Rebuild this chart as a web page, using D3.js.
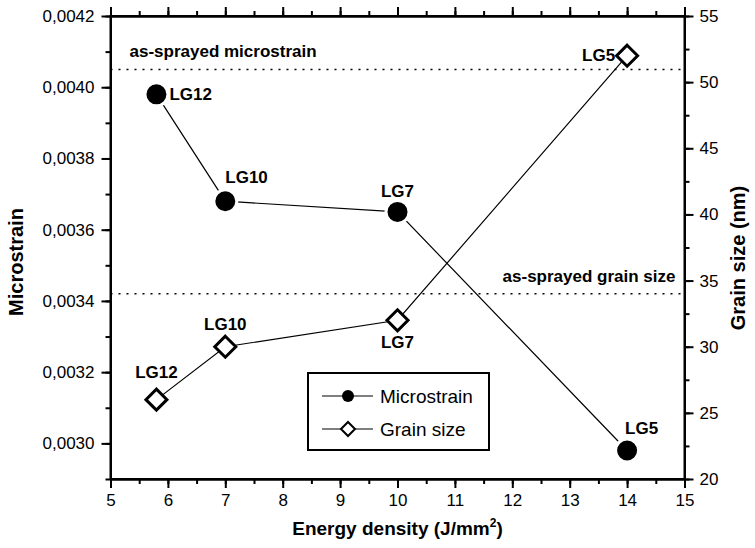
<!DOCTYPE html>
<html>
<head>
<meta charset="utf-8">
<script src="https://cdn.jsdelivr.net/npm/d3@7"></script>
<style>
  body { margin: 0; background: #fff; }
  svg { display: block; font-family: "Liberation Sans", Arial, sans-serif; }
  .axis path, .axis line { stroke: #000; stroke-width: 2; }
  .axis text { font-size: 17px; fill: #000; }
  .lbl { font-size: 17px; font-weight: bold; }
</style>
</head>
<body>
<div id="chart"></div>
<script>
// data
var energy = [5.8, 7, 10, 14];
var samples = ["LG12", "LG10", "LG7", "LG5"];
var microstrain = [0.00398, 0.00368, 0.00365, 0.00298];
var grainSize = [26, 30, 32, 52];
var asSprayedMicrostrain = 0.00405;
var asSprayedGrainSize = 34;

var xTicks = [5, 6, 7, 8, 9, 10, 11, 12, 13, 14, 15];
var leftTicks = [0.0030, 0.0032, 0.0034, 0.0036, 0.0038, 0.0040, 0.0042];
var rightTicks = [20, 25, 30, 35, 40, 45, 50, 55];

// label placement around each point (dx, dy, anchor)
var strainLabelPos = [[13, 6, "start"], [0, -18, "start"], [0, -15, "middle"], [-2, -17, "start"]];
var grainLabelPos = [[0, -22, "middle"], [0, -17, "middle"], [0, 28, "middle"], [-12, 5, "end"]];

var W = 755, H = 548;
var margin = {top: 16, right: 70.5, bottom: 69, left: 110.5};
var width = W - margin.left - margin.right,
    height = H - margin.top - margin.bottom;

var svg = d3.select("#chart").append("svg")
  .attr("width", W).attr("height", H);

var g = svg.append("g")
  .attr("transform", "translate(" + margin.left + "," + margin.top + ")");

var x = d3.scaleLinear().domain([5, 15]).range([0, width]);
var yL = d3.scaleLinear().domain([0.0029, 0.0042]).range([height, 0]);
var yR = d3.scaleLinear().domain([20, 55]).range([height, 0]);

var comma = d3.formatLocale({decimal: ",", thousands: ".", grouping: [3], currency: ["", ""]});
var fmtL = comma.format(".4f");

var minorX = d3.range(5, 15.01, 0.5);
var minorL = d3.range(29, 42.01, 1).map(function(d) { return d / 10000; });
var minorR = d3.range(20, 55.01, 2.5);

// minor ticks
g.append("g").attr("class", "axis")
  .attr("transform", "translate(0," + height + ")")
  .call(d3.axisBottom(x).tickValues(minorX).tickFormat("").tickSize(5).tickSizeOuter(0));
g.append("g").attr("class", "axis")
  .call(d3.axisTop(x).tickValues(minorX).tickFormat("").tickSize(5).tickSizeOuter(0));
g.append("g").attr("class", "axis")
  .call(d3.axisLeft(yL).tickValues(minorL).tickFormat("").tickSize(5).tickSizeOuter(0));
g.append("g").attr("class", "axis")
  .attr("transform", "translate(" + width + ",0)")
  .call(d3.axisRight(yR).tickValues(minorR).tickFormat("").tickSize(5).tickSizeOuter(0));

// major ticks
g.append("g").attr("class", "axis")
  .attr("transform", "translate(0," + height + ")")
  .call(d3.axisBottom(x).tickValues(xTicks).tickFormat(d3.format("d")).tickSize(9).tickPadding(6).tickSizeOuter(0));
g.append("g").attr("class", "axis")
  .call(d3.axisTop(x).tickValues(xTicks).tickFormat("").tickSize(9).tickSizeOuter(0));
g.append("g").attr("class", "axis")
  .call(d3.axisLeft(yL).tickValues(leftTicks).tickFormat(fmtL).tickSize(9).tickPadding(7).tickSizeOuter(0));
g.append("g").attr("class", "axis")
  .attr("transform", "translate(" + width + ",0)")
  .call(d3.axisRight(yR).tickValues(rightTicks).tickFormat(d3.format("d")).tickSize(9).tickPadding(6).tickSizeOuter(0));

// reference lines
g.append("line")
  .attr("x1", 0).attr("x2", width)
  .attr("y1", yL(asSprayedMicrostrain)).attr("y2", yL(asSprayedMicrostrain))
  .attr("stroke", "#000").attr("stroke-width", 1.5).attr("stroke-dasharray", "2,6");
g.append("line")
  .attr("x1", 0).attr("x2", width)
  .attr("y1", yR(asSprayedGrainSize)).attr("y2", yR(asSprayedGrainSize))
  .attr("stroke", "#000").attr("stroke-width", 1.5).attr("stroke-dasharray", "2,6");

g.append("text").attr("class", "lbl")
  .attr("x", 19).attr("y", yL(asSprayedMicrostrain) - 12)
  .text("as-sprayed microstrain");
g.append("text").attr("class", "lbl")
  .attr("x", width - 9).attr("y", yR(asSprayedGrainSize) - 12)
  .attr("text-anchor", "end")
  .text("as-sprayed grain size");

// series lines
var strainLine = d3.line()
  .x(function(d, i) { return x(energy[i]); })
  .y(function(d) { return yL(d); });
var grainLine = d3.line()
  .x(function(d, i) { return x(energy[i]); })
  .y(function(d) { return yR(d); });

g.append("path").datum(microstrain)
  .attr("d", strainLine).attr("fill", "none").attr("stroke", "#000").attr("stroke-width", 1.2);
g.append("path").datum(grainSize)
  .attr("d", grainLine).attr("fill", "none").attr("stroke", "#000").attr("stroke-width", 1.2);

// markers
g.selectAll("circle.pt").data(microstrain).enter().append("circle")
  .attr("class", "pt")
  .attr("cx", function(d, i) { return x(energy[i]); })
  .attr("cy", function(d) { return yL(d); })
  .attr("r", 11.5)
  .attr("fill", "#000").attr("stroke", "#fff").attr("stroke-width", 3);

var diamond = function(s) {
  return "M0," + (-s) + "L" + s + ",0L0," + s + "L" + (-s) + ",0Z";
};
g.selectAll("path.dm").data(grainSize).enter().append("path")
  .attr("class", "dm")
  .attr("transform", function(d, i) { return "translate(" + x(energy[i]) + "," + yR(d) + ")"; })
  .attr("d", diamond(10.5))
  .attr("fill", "#fff").attr("stroke", "#000").attr("stroke-width", 3)
  .attr("stroke-linejoin", "miter");

// point labels
g.selectAll("text.sl").data(microstrain).enter().append("text")
  .attr("class", "lbl sl")
  .attr("x", function(d, i) { return x(energy[i]) + strainLabelPos[i][0]; })
  .attr("y", function(d, i) { return yL(d) + strainLabelPos[i][1]; })
  .attr("text-anchor", function(d, i) { return strainLabelPos[i][2]; })
  .text(function(d, i) { return samples[i]; });

g.selectAll("text.gl").data(grainSize).enter().append("text")
  .attr("class", "lbl gl")
  .attr("x", function(d, i) { return x(energy[i]) + grainLabelPos[i][0]; })
  .attr("y", function(d, i) { return yR(d) + grainLabelPos[i][1]; })
  .attr("text-anchor", function(d, i) { return grainLabelPos[i][2]; })
  .text(function(d, i) { return samples[i]; });

// frame
g.append("rect")
  .attr("width", width).attr("height", height)
  .attr("fill", "none").attr("stroke", "#000").attr("stroke-width", 2);

// legend
var legend = g.append("g").attr("transform", "translate(" + (308 - margin.left) + "," + (373 - margin.top) + ")");
legend.append("rect")
  .attr("width", 181).attr("height", 77)
  .attr("fill", "#fff").attr("stroke", "#000").attr("stroke-width", 2);
var items = [{name: "Microstrain", y: 23}, {name: "Grain size", y: 56}];
items.forEach(function(it, i) {
  legend.append("line")
    .attr("x1", 14).attr("x2", 65).attr("y1", it.y).attr("y2", it.y)
    .attr("stroke", "#000").attr("stroke-width", 1.2);
  if (i === 0) {
    legend.append("circle").attr("cx", 40).attr("cy", it.y).attr("r", 6).attr("fill", "#000");
  } else {
    legend.append("path").attr("transform", "translate(40," + it.y + ")")
      .attr("d", diamond(7)).attr("fill", "#fff").attr("stroke", "#000").attr("stroke-width", 2);
  }
  legend.append("text")
    .attr("x", 72).attr("y", it.y + 7)
    .attr("font-size", "19px")
    .text(it.name);
});

// axis titles
var xt = svg.append("text")
  .attr("x", margin.left + width / 2).attr("y", 535)
  .attr("text-anchor", "middle")
  .attr("font-size", "19px").attr("font-weight", "bold");
xt.append("tspan").text("Energy density (J/mm");
xt.append("tspan").attr("font-size", "12px").attr("dy", -8).text("2");
xt.append("tspan").attr("dy", 8).text(")");

svg.append("text")
  .attr("transform", "translate(23,262) rotate(-90)")
  .attr("text-anchor", "middle")
  .attr("font-size", "20px").attr("font-weight", "bold")
  .text("Microstrain");

svg.append("text")
  .attr("transform", "translate(745,258) rotate(-90)")
  .attr("text-anchor", "middle")
  .attr("font-size", "20px").attr("font-weight", "bold")
  .text("Grain size (nm)");
</script>
</body>
</html>
